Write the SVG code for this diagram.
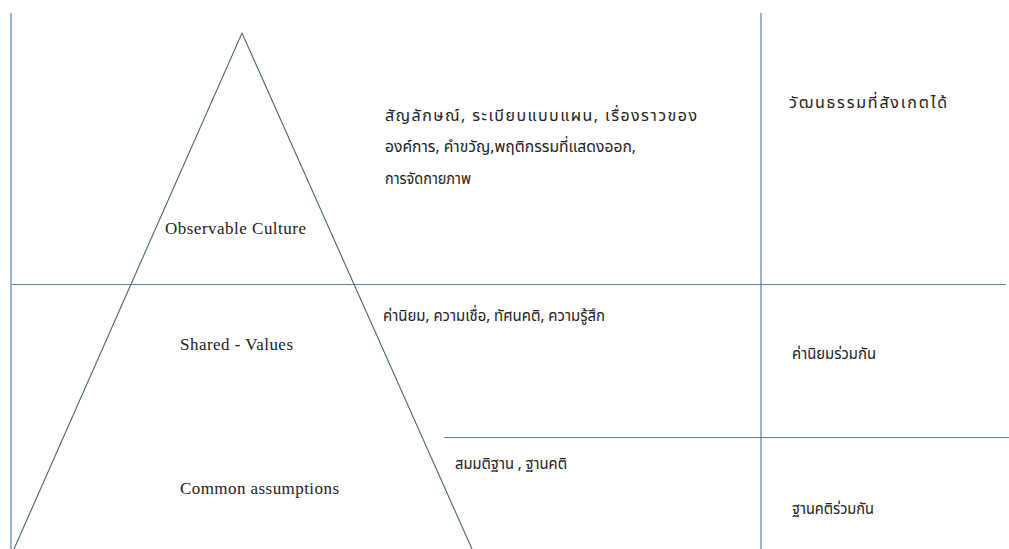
<svg xmlns="http://www.w3.org/2000/svg" width="1009" height="549" viewBox="0 0 1009 549">
<style>
.grid{stroke:#5b7fa3;stroke-width:1.2;fill:none}
.tri{stroke:#4f5f70;stroke-width:1.1;fill:none}
.en{font-family:"Liberation Serif","DejaVu Serif",serif;font-size:17px;fill:#222}
.th{font-family:"Noto Sans Thai","Noto Sans","DejaVu Sans",sans-serif;font-size:16px;fill:#222}
</style>
<rect width="1009" height="549" fill="#fff"/>
<g id="connectors">
<line class="grid" x1="11" y1="13" x2="11" y2="549"/>
<line class="grid" x1="761" y1="13" x2="761" y2="549"/>
<line class="grid" x1="11" y1="284.5" x2="1006" y2="284.5"/>
<line class="grid" x1="444" y1="437.5" x2="1009" y2="437.5"/>
<polyline class="tri" points="14,549 242,33 472,549"/>
</g>
<g id="layer-observable">
<text class="en" x="165" y="234" textLength="141" lengthAdjust="spacing">Observable  Culture</text>
<text class="th" x="385" y="121" textLength="312" lengthAdjust="spacing">สัญลักษณ์, ระเบียบแบบแผน, เรื่องราวของ</text>
<text class="th" x="385" y="152" textLength="251" lengthAdjust="spacingAndGlyphs">องค์การ, คำขวัญ,พฤติกรรมที่แสดงออก,</text>
<text class="th" x="385" y="184" textLength="86" lengthAdjust="spacingAndGlyphs">การจัดกายภาพ</text>
<text class="th" x="789" y="108" textLength="158" lengthAdjust="spacing">วัฒนธรรมที่สังเกตได้</text>
</g>
<g id="layer-values">
<text class="en" x="180" y="350" textLength="113" lengthAdjust="spacing">Shared - Values</text>
<text class="th" x="383" y="321" textLength="222" lengthAdjust="spacingAndGlyphs">ค่านิยม, ความเชื่อ, ทัศนคติ, ความรู้สึก</text>
<text class="th" x="792" y="359" textLength="84" lengthAdjust="spacingAndGlyphs">ค่านิยมร่วมกัน</text>
</g>
<g id="layer-assumptions">
<text class="en" x="180" y="494" textLength="159" lengthAdjust="spacing">Common assumptions</text>
<text class="th" x="455" y="469" textLength="112" lengthAdjust="spacingAndGlyphs">สมมติฐาน  , ฐานคติ</text>
<text class="th" x="792" y="514" textLength="82" lengthAdjust="spacingAndGlyphs">ฐานคติร่วมกัน</text>
</g>
</svg>
